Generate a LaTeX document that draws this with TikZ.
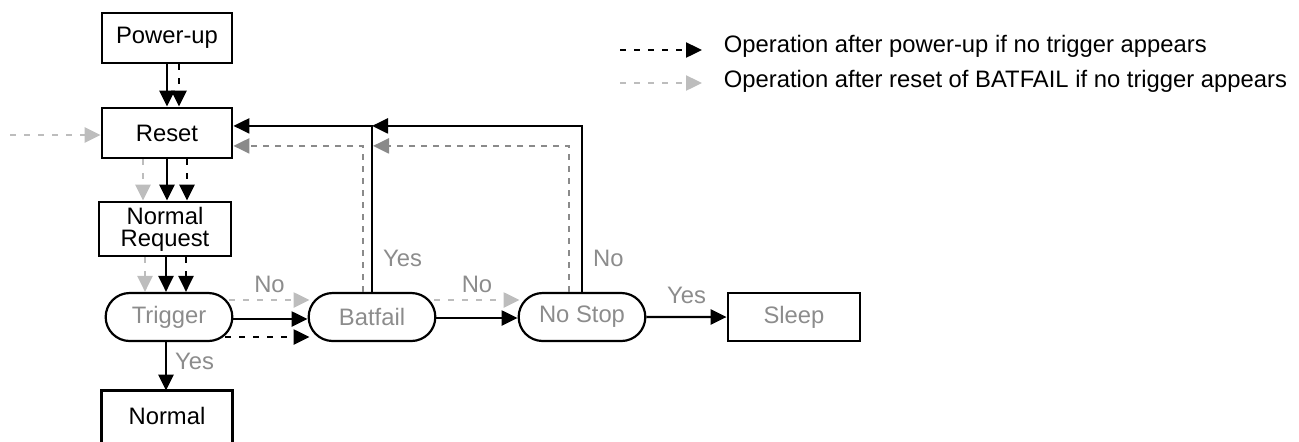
\documentclass[tikz,border=0pt]{standalone}
\usepackage{fontspec}
\setmainfont{Liberation Sans}
\usetikzlibrary{arrows.meta,shapes.misc,calc}

\definecolor{txtgray}{HTML}{8C8C8C}
\definecolor{lgray}{HTML}{BDBDBD}
\definecolor{dgray}{HTML}{8A8A8A}

\tikzset{
    box/.style={draw, line width=1.4pt, minimum width=65pt, minimum height=25pt, inner sep=1pt, align=center},
    decision/.style={draw, rounded rectangle, line width=1.1pt, minimum width=70pt, minimum height=24pt, text=txtgray},
    flow/.style={line width=1.2pt, -{Triangle[length=8pt,width=7.5pt]}},
    pwrflow/.style={flow, dash pattern=on 3pt off 4pt},
    rstflow/.style={flow, lgray, dash pattern=on 3pt off 4pt},
    backflow/.style={flow, dgray, dash pattern=on 3pt off 3pt},
    lbl/.style={text=txtgray, inner sep=1pt}
}

\begin{document}
\begin{tikzpicture}[x=0.5pt, y=-0.5pt, font=\fontsize{11.9}{13}\selectfont]
    \useasboundingbox (0,0) rectangle (1299,441);

    % boxes
    \node[box] (pwr)  at (167,38)  {Power-up};
    \node[box] (rst)  at (167,133) {Reset};
    \node[box, minimum width=66pt, minimum height=27pt] (nreq) at (165,229) {Normal\\[-2pt]Request};
    \node[decision] (trig) at (169,317) {Trigger};
    \node[decision] (bat)  at (372,317) {Batfail};
    \node[decision] (nst)  at (582,317) {No Stop};
    \node[box, minimum width=66pt, minimum height=24pt, text=txtgray] (slp) at (794,317) {Sleep};
    \node[minimum width=65pt, minimum height=25pt] (norm) at (167,416) {Normal};
    \draw[line width=1.4pt] ($(norm.south west)+(0,30)$) -- (norm.north west) -- (norm.north east) -- ($(norm.south east)+(0,30)$);

    % power-up and reset
    \draw[flow] (pwr) -- (rst);
    \draw[pwrflow] ([xshift=6pt]pwr.south) -- ([xshift=6pt]rst.north);
    \coordinate (ext) at (10,135);
    \draw[rstflow] (ext) -- (ext -| rst.west);

    \draw[rstflow] ([xshift=-12pt]rst.south) -- ([xshift=-11pt]nreq.north);
    \draw[flow] ([xshift=0pt]rst.south) -- ([xshift=1pt]nreq.north);
    \draw[pwrflow] ([xshift=10pt]rst.south) -- ([xshift=11pt]nreq.north);

    \draw[rstflow] ([xshift=-10pt]nreq.south) -- ([xshift=-12pt]trig.north);
    \draw[flow] ([xshift=0.5pt]nreq.south) -- ([xshift=-1.5pt]trig.north);
    \draw[pwrflow] ([xshift=10.5pt]nreq.south) -- ([xshift=8.5pt]trig.north);

    % trigger
    \draw[flow] ([xshift=-1.5pt]trig.south) -- node[lbl, right=3pt, pos=0.4]{Yes} ([xshift=-0.5pt]norm.north);
    \draw[rstflow] ([xshift=-2pt,yshift=8.5pt]trig.east) -- node[lbl, above=2pt]{No} ([xshift=1pt,yshift=8.5pt]bat.west);
    \draw[flow] ([yshift=-1pt]trig.east) -- ([yshift=-1pt]bat.west);
    \draw[pwrflow] ([xshift=-4pt,yshift=-10pt]trig.east) -- ([xshift=1pt,yshift=-10pt]bat.west);

    % batfail
    \draw[rstflow] ([xshift=-1pt,yshift=8.5pt]bat.east) -- node[lbl, above=2pt]{No} ([xshift=1pt,yshift=8.5pt]nst.west);
    \draw[flow] ([yshift=-0.5pt]bat.east) -- ([yshift=-0.5pt]nst.west);
    \draw[flow] (nst) -- node[lbl, above=5pt]{Yes} (slp);

    % back to reset
    \coordinate (b1) at ($(bat.north)+(0,-166)$);
    \coordinate (b2) at ($(bat.north)+(-9,-146)$);
    \coordinate (n1) at ($(nst.north)+(0,-166)$);
    \coordinate (n2) at ($(nst.north)+(-13,-146)$);
    \draw[flow] (bat.north) -- node[lbl, right=4pt, pos=0.2]{Yes} (b1) -- (b1 -| rst.east);
    \draw[backflow] ([xshift=-4.5pt]bat.north) -- (b2) -- (b2 -| rst.east);
    \draw[flow] (nst.north) -- node[lbl, right=4pt, pos=0.2]{No} (n1) -- (b1);
    \draw[backflow] ([xshift=-6.5pt]nst.north) -- (n2) -- ($(b2)+(10,0)$);

    % legend
    \coordinate (l1) at (620,50);
    \coordinate (l2) at (620,83);
    \draw[pwrflow] (l1) -- ++(82,0) node[anchor=west, xshift=7pt, yshift=2pt, text=black]{Operation after power-up if no trigger appears};
    \draw[rstflow] (l2) -- ++(82,0) node[anchor=west, xshift=7pt, yshift=1pt, text=black]{Operation after reset of BATFAIL if no trigger appears};
\end{tikzpicture}
\end{document}
